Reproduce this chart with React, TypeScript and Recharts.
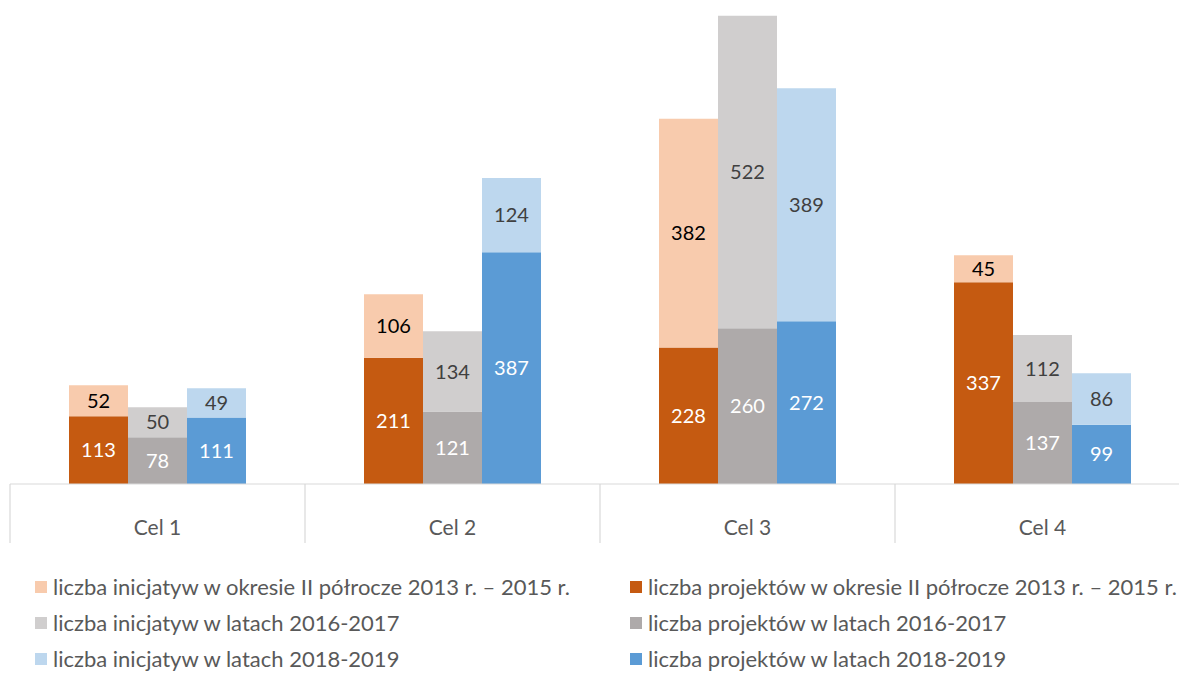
import React from 'react';
import { BarChart, Bar, XAxis, YAxis, LabelList } from 'recharts';

const categories = ['Cel 1', 'Cel 2', 'Cel 3', 'Cel 4'];
const proj2013 = [113, 211, 228, 337];
const init2013 = [52, 106, 382, 45];
const proj2016 = [78, 121, 260, 137];
const init2016 = [50, 134, 522, 112];
const proj2018 = [111, 387, 272, 99];
const init2018 = [49, 124, 389, 86];

const legendLeft = [
  { label: 'liczba inicjatyw w okresie II półrocze 2013 r. – 2015 r.', color: '#F8CBAD' },
  { label: 'liczba inicjatyw w latach 2016-2017', color: '#D0CECE' },
  { label: 'liczba inicjatyw w latach 2018-2019', color: '#BDD7EE' },
];
const legendRight = [
  { label: 'liczba projektów w okresie II półrocze 2013 r. – 2015 r.', color: '#C55A11' },
  { label: 'liczba projektów w latach 2016-2017', color: '#AEAAAA' },
  { label: 'liczba projektów w latach 2018-2019', color: '#5B9BD5' },
];

const data = categories.map((c, i) => ({
  name: c,
  p13: proj2013[i],
  i13: init2013[i],
  p16: proj2016[i],
  i16: init2016[i],
  p18: proj2018[i],
  i18: init2018[i],
}));

const CHART_W = 1200;
const CHART_H = 700;
const M_LEFT = 10;
const M_RIGHT = 10;
const BAND = (CHART_W - M_LEFT - M_RIGHT) / categories.length;
const FONT = 'Lato, "Open Sans", sans-serif';

const CatTick = (props: any) => {
  const { x, y, payload, index } = props;
  const half = BAND / 2;
  return (
    <g>
      <line x1={x - half} x2={x - half} y1={y} y2={y + 59} stroke="#D9D9D9" strokeWidth={1.2} />
      {index === categories.length - 1 && (
        <line x1={x + half} x2={x + half} y1={y} y2={y + 59} stroke="#D9D9D9" strokeWidth={1.2} />
      )}
      <text x={x} y={y + 51} textAnchor="middle" fill="#595959" fontSize={21} fontFamily={FONT}>
        {payload.value}
      </text>
    </g>
  );
};

const LegendCol = ({ items, left }: { items: { label: string; color: string }[]; left: number }) => (
  <div style={{ position: 'absolute', left, top: 569 }}>
    {items.map((it) => (
      <div key={it.label} style={{ display: 'flex', alignItems: 'center', height: 36, whiteSpace: 'nowrap' }}>
        <span style={{ display: 'inline-block', width: 12, height: 12, background: it.color, marginRight: 6 }} />
        <span style={{ fontSize: 22, color: '#595959', fontFamily: FONT, lineHeight: '26px' }}>{it.label}</span>
      </div>
    ))}
  </div>
);

const labelStyle = (fill: string) => ({ fill, fontSize: 20, fontFamily: FONT });

export default function App() {
  return (
    <div
      style={{
        position: 'fixed',
        left: 0,
        top: 0,
        width: 1179,
        height: 675,
        overflow: 'hidden',
        background: '#ffffff',
      }}
    >
      <BarChart
        width={CHART_W}
        height={CHART_H}
        data={data}
        margin={{ top: 5, right: M_RIGHT, left: M_LEFT, bottom: 156 }}
        barCategoryGap="20%"
        barGap={0}
      >
        <YAxis hide domain={[0, 800]} />
        <XAxis
          dataKey="name"
          height={60}
          axisLine={{ stroke: '#D9D9D9', strokeWidth: 1.2 }}
          tickLine={false}
          tickSize={0}
          tickMargin={0}
          tick={<CatTick />}
          interval={0}
        />
        <Bar dataKey="p13" stackId="a" fill="#C55A11" isAnimationActive={false}>
          <LabelList dataKey="p13" position="center" style={labelStyle('#FFFFFF')} />
        </Bar>
        <Bar dataKey="i13" stackId="a" fill="#F8CBAD" isAnimationActive={false}>
          <LabelList dataKey="i13" position="center" style={labelStyle('#000000')} />
        </Bar>
        <Bar dataKey="p16" stackId="b" fill="#AEAAAA" isAnimationActive={false}>
          <LabelList dataKey="p16" position="center" style={labelStyle('#FFFFFF')} />
        </Bar>
        <Bar dataKey="i16" stackId="b" fill="#D0CECE" isAnimationActive={false}>
          <LabelList dataKey="i16" position="center" style={labelStyle('#404040')} />
        </Bar>
        <Bar dataKey="p18" stackId="c" fill="#5B9BD5" isAnimationActive={false}>
          <LabelList dataKey="p18" position="center" style={labelStyle('#FFFFFF')} />
        </Bar>
        <Bar dataKey="i18" stackId="c" fill="#BDD7EE" isAnimationActive={false}>
          <LabelList dataKey="i18" position="center" style={labelStyle('#404040')} />
        </Bar>
      </BarChart>
      <LegendCol items={legendLeft} left={35} />
      <LegendCol items={legendRight} left={630} />
    </div>
  );
}
